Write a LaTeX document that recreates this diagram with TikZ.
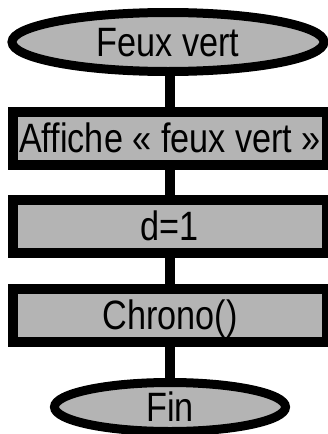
\documentclass[tikz,border=0pt]{standalone}
\usepackage{fontspec}
\usetikzlibrary{shapes.geometric}
\newfontfamily\lblfont[FakeStretch=0.835]{Liberation Sans}
\definecolor{boxfill}{RGB}{180,180,180}
\tikzset{
  every node/.style={font=\lblfont\fontsize{41}{41}\selectfont, text height=28pt, text depth=0pt, inner sep=0pt},
  terminal/.style={ellipse, draw=black, fill=boxfill, line width=9pt},
  stepbox/.style={rectangle, draw=black, fill=boxfill, line width=10pt, minimum width=314pt, minimum height=53pt},
  link/.style={line width=10pt, draw=black}
}
\begin{document}
\begin{tikzpicture}[x=1pt, y=-1pt]
  \useasboundingbox (0,0) rectangle (327,434);
  \node[terminal, minimum width=312pt, minimum height=59pt] (start) at (168,42) {Feux vert};
  \node[stepbox] (show) at (170,138.5) {Affiche « feux vert »};
  \node[stepbox] (init) at (170,226) {d=1};
  \node[stepbox] (chrono) at (170,315) {Chrono()};
  \node[terminal, minimum width=231pt, minimum height=49pt] (stop) at (170,407) {Fin};
  \draw[link] (start.south -| show.north) -- (show.north);
  \draw[link] (show) -- (init);
  \draw[link] (init) -- (chrono);
  \draw[link] (chrono) -- (stop);
\end{tikzpicture}
\end{document}
